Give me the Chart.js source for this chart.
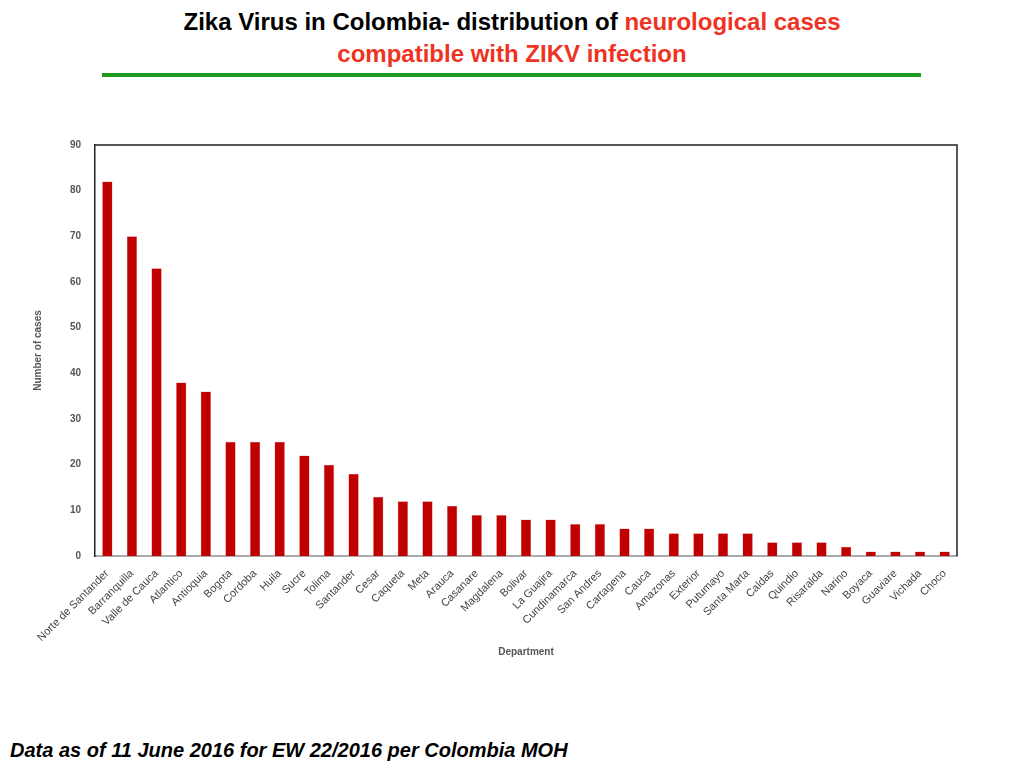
<!DOCTYPE html>
<html lang="en">
  <head>
    <meta charset="UTF-8" />
    <script src="https://cdn.jsdelivr.net/npm/chart.js"></script>
    <title>Zika Virus in Colombia</title>
    <style>
      body { margin: 0; width: 1024px; height: 768px; background: #fff; position: relative; overflow: hidden; font-family: "Liberation Sans", Arial, sans-serif; }
      .titulo { position: absolute; top: 6px; left: 0; width: 1024px; text-align: center; font-family: "Liberation Sans Narrow", "Liberation Sans", sans-serif; font-weight: bold; font-size: 24px; line-height: 32px; color: #000; }
      .vermelho { color: #ee3322; }
      .linha { position: absolute; left: 102px; top: 73px; width: 819px; height: 4px; background: #1e9a1e; }
      .grafico { position: absolute; left: 0; top: 130px; width: 1024px; height: 540px; }
      .rodape { position: absolute; left: 10px; top: 739px; font-weight: bold; font-style: italic; font-size: 20px; color: #000; }
    </style>
  </head>
  <body>
    <div class="titulo">
      Zika Virus in Colombia- distribution of <span class="vermelho">neurological cases</span><br />
      <span class="vermelho">compatible with ZIKV infection</span>
    </div>
    <div class="linha"></div>
    <div class="grafico"><canvas id="graficoZika"></canvas></div>
    <div class="rodape">Data as of 11 June 2016 for EW 22/2016 per Colombia MOH</div>

    <script>
      // departamentos e numero de casos
      var departamentos = [
        "Norte de Santander", "Barranquilla", "Valle de Cauca", "Atlantico", "Antioquia",
        "Bogota", "Cordoba", "Huila", "Sucre", "Tolima", "Santander", "Cesar", "Caqueta",
        "Meta", "Arauca", "Casanare", "Magdalena", "Bolivar", "La Guajira", "Cundinamarca",
        "San Andres", "Cartagena", "Cauca", "Amazonas", "Exterior", "Putumayo", "Santa Marta",
        "Caldas", "Quindio", "Risaralda", "Narino", "Boyaca", "Guaviare", "Vichada", "Choco"
      ];
      var casos = [
        82, 70, 63, 38, 36, 25, 25, 25, 22, 20, 18, 13, 12, 12, 11, 9, 9, 8, 8, 7,
        7, 6, 6, 5, 5, 5, 5, 3, 3, 3, 2, 1, 1, 1, 1
      ];
      var eixoY = { min: 0, max: 90, passo: 10 };

      // borda de cima e da direita da area do grafico
      var moldura = {
        id: "moldura",
        afterDraw: function (chart) {
          var a = chart.chartArea;
          var ctx = chart.ctx;
          ctx.save();
          ctx.strokeStyle = "#222";
          ctx.lineWidth = 1.5;
          ctx.beginPath();
          ctx.moveTo(a.left, a.top);
          ctx.lineTo(a.right, a.top);
          ctx.lineTo(a.right, a.bottom);
          ctx.stroke();
          ctx.restore();
        },
      };

      var grafico = new Chart(document.getElementById("graficoZika"), {
        type: "bar",
        data: {
          labels: departamentos,
          datasets: [
            {
              data: casos,
              backgroundColor: "#c00000",
              borderColor: "#e88080",
              borderWidth: 0.5,
              categoryPercentage: 1,
              barPercentage: 0.42,
            },
          ],
        },
        options: {
          responsive: true,
          maintainAspectRatio: false,
          animation: false,
          layout: { padding: { left: 0, top: 15, right: 67, bottom: 0 } },
          plugins: { legend: { display: false }, tooltip: { enabled: false } },
          scales: {
            x: {
              grid: { display: false },
              border: { color: "#aaa", width: 2 },
              ticks: {
                minRotation: 45,
                maxRotation: 45,
                autoSkip: false,
                color: "#444",
                padding: 3,
                font: { family: "Liberation Sans", size: 11 },
              },
              title: {
                display: true,
                text: "Department",
                color: "#555",
                padding: { top: 0, bottom: 12 },
                font: { family: "Liberation Sans", size: 10, weight: "bold" },
              },
              afterFit: function (scale) {
                scale.height = 114;
              },
            },
            y: {
              min: eixoY.min,
              max: eixoY.max,
              grid: { display: false },
              border: { color: "#222", width: 1.5 },
              ticks: {
                stepSize: eixoY.passo,
                color: "#555",
                padding: 6,
                font: { family: "Liberation Sans", size: 10, weight: "bold" },
              },
              title: {
                display: true,
                text: "Number of cases",
                color: "#555",
                padding: { top: 32, bottom: 0 },
                font: { family: "Liberation Sans", size: 10, weight: "bold" },
              },
              afterFit: function (scale) {
                scale.width = 95;
              },
            },
          },
        },
        plugins: [moldura],
      });
    </script>
  </body>
</html>
